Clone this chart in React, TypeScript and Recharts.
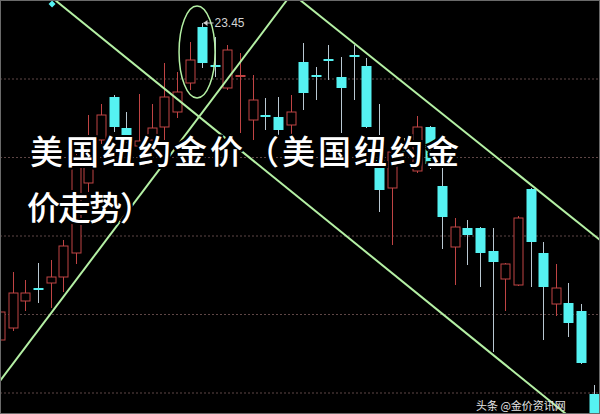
import React from 'react';
import { ComposedChart, Bar, XAxis, YAxis, ReferenceLine, ReferenceDot, CartesianGrid } from 'recharts';

// Candle values (price units), one entry per trading period, left to right
const opens = [20.28, 20.40, 20.67, 20.79, 20.85, 20.91, 21.15, 21.85, 22.28, 22.71, 22.40, 22.22, 22.28, 22.41, 22.56, 22.85,
  23.41, 23.02, 22.80, 22.91, 22.48, 22.52, 22.51, 22.43, 23.06, 22.92, 23.08, 22.91, 23.12, 23.02, 22.08, 21.80,
  22.23, 21.97, 22.41, 21.82, 21.21, 21.40, 21.40, 21.17, 20.89, 20.83, 21.79, 21.15, 20.64, 20.65, 20.57, 19.74];
const closes = [20.56, 20.75, 20.75, 20.78, 20.91, 21.22, 22.08, 22.31, 22.53, 22.41, 22.28, 22.27, 22.40, 22.71, 22.76, 23.08,
  23.05, 23.01, 23.18, 22.92, 22.68, 22.51, 22.38, 22.56, 22.75, 22.91, 23.07, 22.80, 23.11, 22.41, 21.78, 22.16,
  22.16, 22.41, 22.04, 21.51, 21.41, 21.33, 21.15, 21.06, 21.04, 21.50, 21.26, 20.81, 20.80, 20.45, 20.05, 19.48];
const highs = [20.63, 20.96, 20.88, 21.05, 21.08, 21.28, 22.20, 22.53, 22.64, 22.73, 22.56, 22.74, 22.64, 23.05, 22.96, 23.26,
  23.45, 23.31, 23.23, 23.15, 22.93, 22.70, 22.71, 22.73, 23.25, 23.01, 23.23, 23.11, 23.23, 23.10, 22.64, 22.20,
  22.30, 22.52, 22.42, 22.06, 21.50, 21.48, 21.41, 21.40, 21.05, 21.52, 21.80, 21.26, 21.04, 20.85, 20.64, 19.83];
const lows = [20.22, 20.37, 20.57, 20.65, 20.60, 20.76, 21.04, 21.76, 22.24, 22.36, 22.25, 22.16, 22.22, 22.28, 22.50, 22.78,
  23.00, 22.91, 22.78, 22.35, 22.28, 22.38, 22.33, 22.28, 22.58, 22.68, 22.88, 22.35, 22.68, 22.40, 21.56, 21.23,
  22.10, 21.95, 21.99, 21.19, 20.83, 21.03, 20.81, 20.16, 20.57, 20.82, 20.81, 20.28, 20.52, 20.31, 20.04, 19.40];

const gridPrices = [19.75, 20.535, 21.32, 22.105, 22.89];
const peakLabel = '23.45';
const peakIndex = 16;
const peakPrice = 23.45;

// Trend lines: [index, price] endpoints
const trendLines = [
  [[4.32, 23.68], [44.78, 19.54]],
  [[-0.03, 19.87], [22.69, 23.68]],
  [[23.72, 23.68], [47.47, 21.28]],
];
const ellipseCenter = { x: 15.57, y: 23.16 };
const markerPoint = { x: 4.09, y: 23.64 };

const titleLine1 = '美国纽约金价（美国纽约金';
const titleLine2 = '价走势）';
const watermark = '头条 @金价资讯网';

const RED = '#c04444';
const CYAN = '#55f2f2';
const WICK = '#b9c8d2';
const GREEN = '#b4f0a4';

const data = opens.map((o, i) => ({
  i,
  open: o,
  close: closes[i],
  high: highs[i],
  low: lows[i],
  range: [lows[i], highs[i]],
}));

const Candle = (props: any) => {
  const { x, y, width, height, payload } = props;
  if (!payload) return null;
  const { open, close, high, low } = payload;
  const span = high - low;
  const py = (v: number) => (span > 0 ? y + ((high - v) / span) * height : y);
  const cx = Math.round(x + width / 2) + 0.5;
  const up = close > open;
  const top = py(Math.max(open, close));
  const bot = py(Math.min(open, close));
  const bh = bot - top;
  const yHigh = py(high);
  const yLow = py(low);
  const half = 5;
  if (up) {
    return (
      <g>
        <line x1={cx} x2={cx} y1={yHigh} y2={top} stroke={RED} strokeWidth={1} />
        <line x1={cx} x2={cx} y1={bot} y2={yLow} stroke={RED} strokeWidth={1} />
        {bh < 1.5 ? (
          <line x1={cx - half} x2={cx + half} y1={top} y2={top} stroke={RED} strokeWidth={2} />
        ) : (
          <rect x={cx - half + 0.5} y={top} width={half * 2 - 1} height={bh} fill="#000" stroke={RED} strokeWidth={1} />
        )}
      </g>
    );
  }
  return (
    <g>
      <line x1={cx} x2={cx} y1={yHigh} y2={yLow} stroke={WICK} strokeWidth={1} />
      {bh < 1.5 ? (
        <line x1={cx - half} x2={cx + half} y1={top} y2={top} stroke={CYAN} strokeWidth={2} />
      ) : (
        <rect x={cx - half} y={top} width={half * 2} height={bh} fill={CYAN} />
      )}
    </g>
  );
};

const PeakLabel = (props: any) => {
  const { cx, cy } = props;
  return (
    <g>
      <line x1={cx + 1} x2={cx + 11} y1={cy} y2={cy} stroke="#cfcfcf" strokeWidth={1} />
      <path d={`M${cx + 1},${cy} l4,-3 l0,6 z`} fill="#cfcfcf" />
      <text x={cx + 12} y={cy + 4} fill="#d4d4d4" fontSize={12} fontFamily="Liberation Sans, Arial, sans-serif">
        {peakLabel}
      </text>
    </g>
  );
};

const EllipseShape = (props: any) => {
  const { cx, cy } = props;
  return <ellipse cx={cx} cy={cy} rx={18} ry={46} fill="none" stroke={GREEN} strokeWidth={1.5} />;
};

const Diamond = (props: any) => {
  const { cx, cy } = props;
  return <path d={`M${cx},${cy - 3.5} L${cx + 3.5},${cy} L${cx},${cy + 3.5} L${cx - 3.5},${cy} Z`} fill={CYAN} />;
};

const textShadow = [
  '2px 0 0 #000', '-2px 0 0 #000', '0 2px 0 #000', '0 -2px 0 #000',
  '2px 2px 0 #000', '-2px -2px 0 #000', '2px -2px 0 #000', '-2px 2px 0 #000',
].join(',');

export default function App() {
  return (
    <div style={{ position: 'fixed', left: 0, top: 0, width: 600, height: 414, overflow: 'hidden', background: '#000' }}>
      <ComposedChart width={600} height={414} data={data} margin={{ top: 0, right: 0, bottom: 0, left: 0 }}>
        <XAxis dataKey="i" type="number" domain={[-0.03, 47.47]} hide allowDataOverflow />
        <YAxis type="number" domain={[19.54, 23.68]} ticks={gridPrices} hide allowDataOverflow />
        <CartesianGrid vertical={false} stroke="#5e4646" strokeDasharray="2 2" />
        <Bar dataKey="range" barSize={10} shape={Candle} isAnimationActive={false} />
        {trendLines.map((seg, k) => (
          <ReferenceLine
            key={k}
            segment={[{ x: seg[0][0], y: seg[0][1] }, { x: seg[1][0], y: seg[1][1] }]}
            stroke={GREEN}
            strokeWidth={2}
            ifOverflow="visible"
          />
        ))}
        <ReferenceDot x={ellipseCenter.x} y={ellipseCenter.y} r={1} shape={EllipseShape} ifOverflow="visible" />
        <ReferenceDot x={peakIndex} y={peakPrice} r={1} shape={PeakLabel} ifOverflow="visible" />
        <ReferenceDot x={markerPoint.x} y={markerPoint.y} r={1} shape={Diamond} ifOverflow="visible" />
      </ComposedChart>
      <div style={{ position: 'absolute', left: 0, top: 0, width: 598, height: 412, border: '1px solid #6a6a6a', pointerEvents: 'none' }} />
      <div
        style={{
          position: 'absolute', left: 30, top: 130, fontSize: 33, lineHeight: '40px', color: '#fff',
          fontFamily: '"Noto Sans CJK SC", sans-serif', fontWeight: 500, letterSpacing: 3, whiteSpace: 'nowrap', textShadow,
        }}
      >
        {titleLine1}
      </div>
      <div
        style={{
          position: 'absolute', left: 27, top: 186, fontSize: 33, lineHeight: '40px', color: '#fff',
          fontFamily: '"Noto Sans CJK SC", sans-serif', fontWeight: 500, letterSpacing: -2, whiteSpace: 'nowrap', textShadow,
        }}
      >
        {titleLine2}
      </div>
      <div
        style={{
          position: 'absolute', left: 476, top: 399, fontSize: 11, lineHeight: '13px', color: '#e6e6e6',
          fontFamily: '"Noto Sans CJK SC", sans-serif', whiteSpace: 'nowrap',
        }}
      >
        {watermark}
      </div>
    </div>
  );
}
